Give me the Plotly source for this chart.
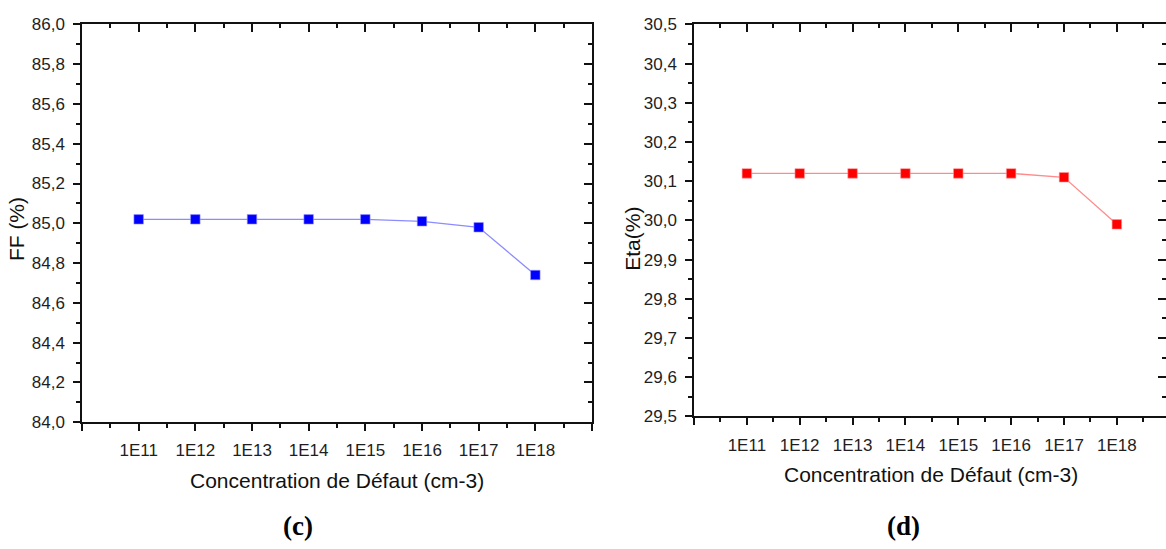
import plotly.graph_objects as go

# Defect concentration categories and simulated cell parameters
concentrations = ["1E11", "1E12", "1E13", "1E14", "1E15", "1E16", "1E17", "1E18"]
ff_values = [85.02, 85.02, 85.02, 85.02, 85.02, 85.01, 84.98, 84.74]
eta_values = [30.12, 30.12, 30.12, 30.12, 30.12, 30.12, 30.11, 29.99]

positions = list(range(1, len(concentrations) + 1))
tick_positions = [0] + positions + [len(concentrations) + 1]
tick_labels = [""] + concentrations + [""]

W, H = 1166, 549
FONT = "Liberation Sans, Arial, sans-serif"
TICK_FONT = dict(family=FONT, size=17, color="#1e1e1e")
AXIS_COLOR = "#111111"
TICK_W = 1.6


def px_x(p):
    return p / W


def px_y(p):
    return 1 - p / H


def series(y, xa, ya, line_color, marker_color, edge_color, opacity=1.0):
    return go.Scatter(
        x=positions, y=y, xaxis=xa, yaxis=ya, mode="lines+markers",
        line=dict(color=line_color, width=1.3),
        marker=dict(symbol="square", size=9.5, color=marker_color,
                    line=dict(color=edge_color, width=1)),
        opacity=opacity, hoverinfo="skip" if opacity == 0 else None,
        showlegend=False,
    )


fig = go.Figure()
# FF panel: main curve on the bottom/left axes, a transparent copy that
# carries the top/right frame axes
fig.add_trace(series(ff_values, "x", "y", "#8c8cff", "#0000ff", "rgba(150,150,255,0.6)"))
fig.add_trace(series(ff_values, "x3", "y3", "#8c8cff", "#0000ff", "rgba(150,150,255,0.6)", 0))
# Efficiency panel
fig.add_trace(series(eta_values, "x2", "y2", "#ff8c8c", "#ff0000", "rgba(255,150,150,0.6)"))
fig.add_trace(series(eta_values, "x4", "y4", "#ff8c8c", "#ff0000", "rgba(255,150,150,0.6)", 0))

left_dom_x = [px_x(82), px_x(592)]
left_dom_y = [px_y(428), px_y(16)]
right_dom_x = [px_x(694), 1.0]
right_dom_y = [px_y(422), px_y(16)]

x_left_range = [0, 9]
x_right_range = [0, 8.93]


def bottom_x(domain, rng, anchor):
    return dict(
        domain=domain, range=rng, anchor=anchor,
        tickmode="array", tickvals=tick_positions, ticktext=tick_labels,
        ticks="outside", ticklen=7, tickwidth=TICK_W, tickcolor=AXIS_COLOR,
        minor=dict(tickmode="linear", tick0=0.5, dtick=1, ticks="outside",
                   ticklen=4, tickwidth=TICK_W, tickcolor=AXIS_COLOR),
        showline=True, linecolor=AXIS_COLOR, linewidth=1.5,
        showgrid=False, zeroline=False, tickfont=TICK_FONT, ticklabelstandoff=5,
    )


def top_x(domain, rng, anchor, overlay):
    return dict(
        domain=domain, range=rng, anchor=anchor, overlaying=overlay, side="top",
        tickmode="linear", tick0=0, dtick=1,
        ticks="inside", ticklen=8, tickwidth=TICK_W, tickcolor=AXIS_COLOR,
        minor=dict(tickmode="linear", tick0=0.5, dtick=1, ticks="inside",
                   ticklen=4, tickwidth=TICK_W, tickcolor=AXIS_COLOR),
        showline=True, linecolor=AXIS_COLOR, linewidth=1.5,
        showticklabels=False, showgrid=False, zeroline=False,
    )


def left_y(domain, rng, anchor, dtick):
    return dict(
        domain=domain, range=rng, anchor=anchor,
        tickmode="linear", tick0=rng[0], dtick=dtick, tickformat=".1f",
        ticks="outside", ticklen=7, tickwidth=TICK_W, tickcolor=AXIS_COLOR,
        minor=dict(tickmode="linear", tick0=rng[0], dtick=dtick / 2, ticks="outside",
                   ticklen=4, tickwidth=TICK_W, tickcolor=AXIS_COLOR),
        showline=True, linecolor=AXIS_COLOR, linewidth=1.5,
        showgrid=False, zeroline=False, tickfont=TICK_FONT, ticklabelstandoff=5,
    )


def right_y(domain, rng, anchor, overlay, dtick):
    return dict(
        domain=domain, range=rng, anchor=anchor, overlaying=overlay, side="right",
        tickmode="linear", tick0=rng[0], dtick=dtick,
        ticks="inside", ticklen=8, tickwidth=TICK_W, tickcolor=AXIS_COLOR,
        minor=dict(tickmode="linear", tick0=rng[0], dtick=dtick / 2, ticks="inside",
                   ticklen=4, tickwidth=TICK_W, tickcolor=AXIS_COLOR),
        showline=True, linecolor=AXIS_COLOR, linewidth=1.5,
        showticklabels=False, showgrid=False, zeroline=False,
    )


fig.update_layout(
    width=W, height=H,
    margin=dict(l=0, r=0, t=0, b=0),
    paper_bgcolor="white", plot_bgcolor="white",
    separators=",.",
    xaxis=bottom_x(left_dom_x, x_left_range, "y"),
    yaxis=left_y(left_dom_y, [84.0, 86.0], "x", 0.2),
    xaxis3=top_x(left_dom_x, x_left_range, "y3", "x"),
    yaxis3=right_y(left_dom_y, [84.0, 86.0], "x3", "y", 0.2),
    xaxis2=bottom_x(right_dom_x, x_right_range, "y2"),
    yaxis2=left_y(right_dom_y, [29.5, 30.5], "x2", 0.1),
    xaxis4=top_x(right_dom_x, x_right_range, "y4", "x2"),
    yaxis4=right_y(right_dom_y, [29.5, 30.5], "x4", "y2", 0.1),
)

title_font = dict(family=FONT, size=21, color="#111111")
label_font = dict(family="Liberation Serif, Times New Roman, serif", size=27, color="#000000")

annotations = [
    dict(text="Concentration de Défaut (cm-3)", x=px_x(337), y=px_y(488), font=title_font),
    dict(text="Concentration de Défaut (cm-3)", x=px_x(931), y=px_y(482), font=title_font),
    dict(text="FF (%)", x=px_x(16), y=px_y(228), font=title_font, textangle=-90),
    dict(text="Eta(%)", x=px_x(633), y=px_y(238), font=title_font, textangle=-90),
    dict(text="<b>(c)</b>", x=px_x(298), y=px_y(536), font=label_font),
    dict(text="<b>(d)</b>", x=px_x(903), y=px_y(536), font=label_font),
]
for a in annotations:
    fig.add_annotation(xref="paper", yref="paper", xanchor="center", yanchor="middle",
                       showarrow=False, **a)

fig.write_html("out.html")
